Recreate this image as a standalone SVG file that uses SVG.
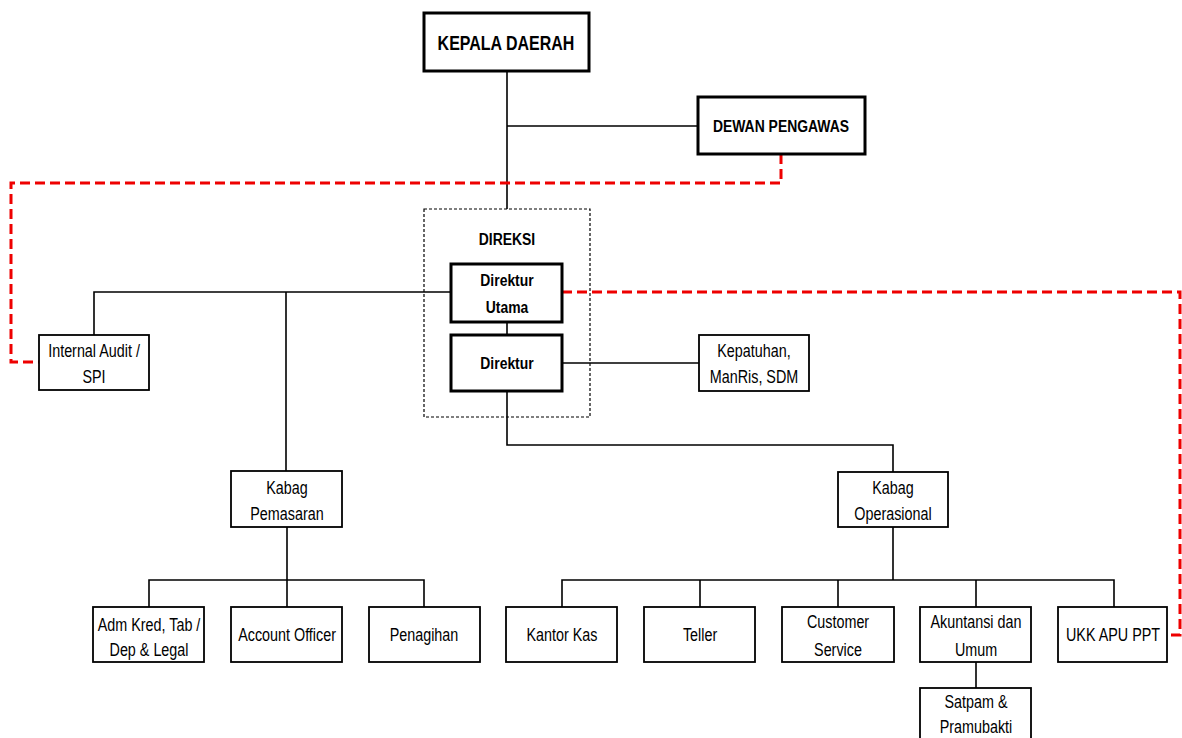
<svg xmlns="http://www.w3.org/2000/svg" width="1182" height="738" viewBox="0 0 1182 738">
<style>
text{font-family:"Liberation Sans",Arial,sans-serif;text-anchor:middle;fill:#000;transform-box:fill-box;transform-origin:center;transform:scaleX(0.82)}
.t{font-size:17.5px}
.b{font-size:17px;font-weight:bold}
.box{fill:#fff;stroke:#000;stroke-width:1.8}
.bold{fill:#fff;stroke:#000;stroke-width:3}
.ln{fill:none;stroke:#000;stroke-width:1.6}
.red{fill:none;stroke:#e00;stroke-width:3;stroke-dasharray:10,5}
</style>
<rect width="1182" height="738" fill="#fff"/>
<g id="connectors">
<path class="ln" d="M507,71V209M507,126H698M94,335V292H451M286,292V471M507,322V335M562,363H699M507,391V445H893V472"/>
<path class="ln" d="M287,527V580M149,607V580H424V607M287,580V607"/>
<path class="ln" d="M893,527V580M562,607V580H1114V607M700,580V607M838,580V607M976,580V607M976,662V688"/>
<path class="red" d="M781,154V183H11V362H39"/>
<path class="red" d="M562,292H1180V635H1167"/>
</g>
<g id="direksi"><rect x="424" y="209" width="166" height="208" fill="none" stroke="#000" stroke-width="1.2" stroke-dasharray="3,2"/><text class="b" x="507" y="245">DIREKSI</text></g>
<g id="kepala"><rect class="bold" x="424" y="13" width="165" height="58"/><text class="b" x="506" y="50" style="font-size:19.5px">KEPALA DAERAH</text></g>
<g id="dewan"><rect class="bold" x="698" y="97" width="167" height="57"/><text class="b" x="781" y="132">DEWAN PENGAWAS</text></g>
<g id="dirut"><rect class="bold" x="451" y="264" width="111" height="58"/><text class="b" x="507" y="286">Direktur</text><text class="b" x="507" y="313">Utama</text></g>
<g id="direktur"><rect class="bold" x="451" y="335" width="111" height="56"/><text class="b" x="507" y="369">Direktur</text></g>
<g id="audit"><rect class="box" x="39" y="335" width="110" height="55"/><text class="t" x="94" y="357">Internal Audit /</text><text class="t" x="94" y="383">SPI</text></g>
<g id="kepatuhan"><rect class="box" x="699" y="335" width="110" height="56"/><text class="t" x="754" y="357">Kepatuhan,</text><text class="t" x="754" y="383">ManRis, SDM</text></g>
<g id="kabag-pemasaran"><rect class="box" x="231" y="471" width="111" height="56"/><text class="t" x="287" y="494">Kabag</text><text class="t" x="287" y="520">Pemasaran</text></g>
<g id="kabag-operasional"><rect class="box" x="838" y="472" width="110" height="55"/><text class="t" x="893" y="494">Kabag</text><text class="t" x="893" y="520">Operasional</text></g>
<g id="adm"><rect class="box" x="93" y="607" width="111" height="55"/><text class="t" x="149" y="631">Adm Kred, Tab /</text><text class="t" x="149" y="656">Dep &amp; Legal</text></g>
<g id="ao"><rect class="box" x="231" y="607" width="111" height="55"/><text class="t" x="287" y="641">Account Officer</text></g>
<g id="penagihan"><rect class="box" x="369" y="607" width="111" height="55"/><text class="t" x="424" y="641">Penagihan</text></g>
<g id="kantorkas"><rect class="box" x="506" y="607" width="111" height="55"/><text class="t" x="562" y="641">Kantor Kas</text></g>
<g id="teller"><rect class="box" x="644" y="607" width="111" height="55"/><text class="t" x="700" y="641">Teller</text></g>
<g id="cs"><rect class="box" x="782" y="607" width="112" height="55"/><text class="t" x="838" y="628">Customer</text><text class="t" x="838" y="656">Service</text></g>
<g id="akuntansi"><rect class="box" x="920" y="607" width="111" height="55"/><text class="t" x="976" y="628">Akuntansi dan</text><text class="t" x="976" y="656">Umum</text></g>
<g id="ukk"><rect class="box" x="1058" y="607" width="109" height="55"/><text class="t" x="1113" y="641">UKK APU PPT</text></g>
<g id="satpam"><rect class="box" x="920" y="688" width="111" height="60"/><text class="t" x="976" y="708">Satpam &amp;</text><text class="t" x="976" y="733">Pramubakti</text></g>
</svg>
